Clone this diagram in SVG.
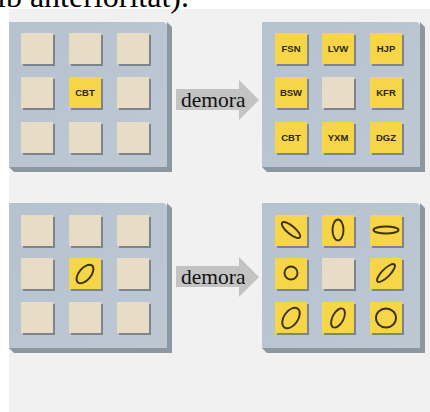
<svg xmlns="http://www.w3.org/2000/svg" width="430" height="412" viewBox="0 0 430 412">
  <defs>
    <style>
      .panel { fill: #f1f1f1; }
      .shade { fill: #8d979f; }
      .tshade { fill: #7d858c; }
      .blank { fill: #e9dcc6; }
      .hot { fill: #f6d548; }
      .code { font-family: "Liberation Sans", Arial, sans-serif; font-weight: bold; font-size: 9.5px; fill: #2b2510; text-anchor: middle; }
      .arrow { fill: #c3c3c3; }
      .lbl { font-family: "Liberation Serif", "Times New Roman", serif; font-size: 21.5px; fill: #111; }
      .ring { fill: none; stroke: #3b3208; stroke-width: 1.9; }
      .cap { font-family: "Liberation Serif", "Times New Roman", serif; font-size: 32px; fill: #000; }
    </style>
    <linearGradient id="faceGrad" x1="0" y1="0" x2="1" y2="1">
      <stop offset="0" stop-color="#b5c2cf"/>
      <stop offset="1" stop-color="#bdc8d3"/>
    </linearGradient>
    <!-- board: raised plate with dark edge on the right and bottom -->
    <g id="board">
      <polygon class="shade" points="158,0 163,5 163,150 158,150 5,150 0,145 158,145"/>
      <rect width="158" height="145" fill="url(#faceGrad)"/>
      <polygon points="155,0 158,0 158,3" fill="#e6ecf1"/>
    </g>
    <g id="tile">
      <rect x="2" y="2" width="32" height="31" class="tshade"/>
    </g>
  </defs>

  <rect width="430" height="412" fill="#ffffff"/>
  <rect x="9" y="9" width="421" height="403" class="panel"/>
  <text class="cap" x="-3" y="7">ib anterioritat).</text>

  <!-- top left: one coded tile -->
  <g id="board-code-before">
    <use href="#board" x="9" y="22"/>
    <use href="#tile" x="21" y="33"/><rect x="21" y="33" width="32" height="31" class="blank"/>
    <use href="#tile" x="69" y="33"/><rect x="69" y="33" width="32" height="31" class="blank"/>
    <use href="#tile" x="117" y="33"/><rect x="117" y="33" width="32" height="31" class="blank"/>
    <use href="#tile" x="21" y="77"/><rect x="21" y="77" width="32" height="31" class="blank"/>
    <use href="#tile" x="69" y="77"/><rect x="69" y="77" width="32" height="31" class="hot"/>
    <text class="code" x="85" y="96">CBT</text>
    <use href="#tile" x="117" y="77"/><rect x="117" y="77" width="32" height="31" class="blank"/>
    <use href="#tile" x="21" y="122"/><rect x="21" y="122" width="32" height="31" class="blank"/>
    <use href="#tile" x="69" y="122"/><rect x="69" y="122" width="32" height="31" class="blank"/>
    <use href="#tile" x="117" y="122"/><rect x="117" y="122" width="32" height="31" class="blank"/>
  </g>

  <!-- top right: eight coded tiles -->
  <g id="board-code-after">
    <use href="#board" x="262" y="22"/>
    <use href="#tile" x="275" y="33"/><rect x="275" y="33" width="32" height="31" class="hot"/>
    <text class="code" x="291" y="52">FSN</text>
    <use href="#tile" x="322" y="33"/><rect x="322" y="33" width="32" height="31" class="hot"/>
    <text class="code" x="338" y="52">LVW</text>
    <use href="#tile" x="370" y="33"/><rect x="370" y="33" width="32" height="31" class="hot"/>
    <text class="code" x="386" y="52">HJP</text>
    <use href="#tile" x="275" y="77"/><rect x="275" y="77" width="32" height="31" class="hot"/>
    <text class="code" x="291" y="96">BSW</text>
    <use href="#tile" x="322" y="77"/><rect x="322" y="77" width="32" height="31" class="blank"/>
    <use href="#tile" x="370" y="77"/><rect x="370" y="77" width="32" height="31" class="hot"/>
    <text class="code" x="386" y="96">KFR</text>
    <use href="#tile" x="275" y="122"/><rect x="275" y="122" width="32" height="31" class="hot"/>
    <text class="code" x="291" y="141">CBT</text>
    <use href="#tile" x="322" y="122"/><rect x="322" y="122" width="32" height="31" class="hot"/>
    <text class="code" x="338" y="141">YXM</text>
    <use href="#tile" x="370" y="122"/><rect x="370" y="122" width="32" height="31" class="hot"/>
    <text class="code" x="386" y="141">DGZ</text>
  </g>

  <!-- bottom left: one ellipse tile -->
  <g id="board-shape-before">
    <use href="#board" x="9" y="203"/>
    <use href="#tile" x="21" y="215"/><rect x="21" y="215" width="32" height="31" class="blank"/>
    <use href="#tile" x="69" y="215"/><rect x="69" y="215" width="32" height="31" class="blank"/>
    <use href="#tile" x="117" y="215"/><rect x="117" y="215" width="32" height="31" class="blank"/>
    <use href="#tile" x="21" y="258"/><rect x="21" y="258" width="32" height="31" class="blank"/>
    <use href="#tile" x="69" y="258"/><rect x="69" y="258" width="32" height="31" class="hot"/>
    <ellipse class="ring" cx="85" cy="274" rx="11" ry="6" transform="rotate(-50 85 274)"/>
    <use href="#tile" x="117" y="258"/><rect x="117" y="258" width="32" height="31" class="blank"/>
    <use href="#tile" x="21" y="302"/><rect x="21" y="302" width="32" height="31" class="blank"/>
    <use href="#tile" x="69" y="302"/><rect x="69" y="302" width="32" height="31" class="blank"/>
    <use href="#tile" x="117" y="302"/><rect x="117" y="302" width="32" height="31" class="blank"/>
  </g>

  <!-- bottom right: eight ellipse tiles -->
  <g id="board-shape-after">
    <use href="#board" x="262" y="203"/>
    <use href="#tile" x="275" y="215"/><rect x="275" y="215" width="32" height="31" class="hot"/>
    <ellipse class="ring" cx="291" cy="230" rx="11.5" ry="4" transform="rotate(40 291 230)"/>
    <use href="#tile" x="322" y="215"/><rect x="322" y="215" width="32" height="31" class="hot"/>
    <ellipse class="ring" cx="338" cy="230" rx="5.5" ry="10.5"/>
    <use href="#tile" x="370" y="215"/><rect x="370" y="215" width="32" height="31" class="hot"/>
    <ellipse class="ring" cx="386" cy="230" rx="12.5" ry="3.5"/>
    <use href="#tile" x="275" y="258"/><rect x="275" y="258" width="32" height="31" class="hot"/>
    <circle class="ring" cx="291" cy="273" r="6.5"/>
    <use href="#tile" x="322" y="258"/><rect x="322" y="258" width="32" height="31" class="blank"/>
    <use href="#tile" x="370" y="258"/><rect x="370" y="258" width="32" height="31" class="hot"/>
    <ellipse class="ring" cx="386" cy="273" rx="12" ry="4" transform="rotate(-45 386 273)"/>
    <use href="#tile" x="275" y="302"/><rect x="275" y="302" width="32" height="31" class="hot"/>
    <ellipse class="ring" cx="291" cy="318" rx="11.5" ry="7" transform="rotate(-55 291 318)"/>
    <use href="#tile" x="322" y="302"/><rect x="322" y="302" width="32" height="31" class="hot"/>
    <ellipse class="ring" cx="338" cy="318" rx="10.5" ry="5.5" transform="rotate(-62 338 318)"/>
    <use href="#tile" x="370" y="302"/><rect x="370" y="302" width="32" height="31" class="hot"/>
    <ellipse class="ring" cx="386" cy="318" rx="10" ry="9.5"/>
  </g>

  <!-- delay arrows between boards -->
  <g id="connectors">
    <polygon class="arrow" points="176,89 239,89 239,80 259,100 239,120 239,110 176,110"/>
    <text class="lbl" x="181" y="107">demora</text>
    <polygon class="arrow" points="176,266 239,266 239,257 259,277 239,297 239,287 176,287"/>
    <text class="lbl" x="181" y="284">demora</text>
  </g>
</svg>
